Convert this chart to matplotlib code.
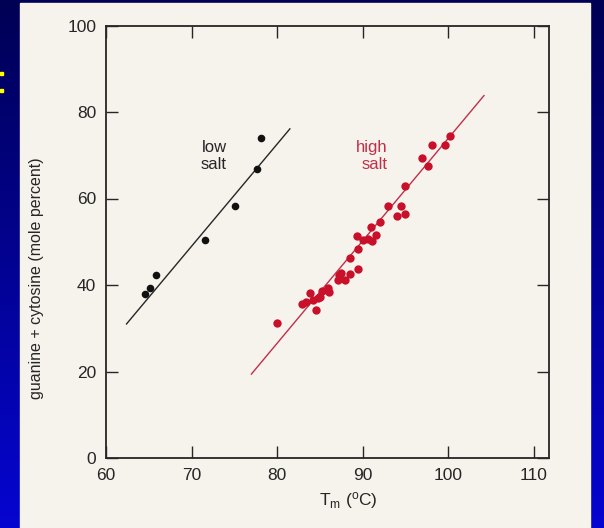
import numpy as np
import matplotlib.pyplot as plt
from matplotlib.patches import Rectangle

plt.rcParams['font.family'] = ['Liberation Sans', 'DejaVu Sans']

# low salt (black) points
low_tm = [64.6, 65.2, 65.9, 71.6, 75.1, 77.6, 78.1]
low_gc = [38.0, 39.2, 42.3, 50.4, 58.2, 66.9, 74.1]
low_fit_tm = [62.4, 81.5]
low_fit_gc = [31.0, 76.1]

# high salt (red) points
high_tm = [80.0, 82.9, 83.4, 83.8, 84.2, 84.5, 84.8, 85.0, 85.3, 85.9,
           86.1, 87.1, 87.3, 87.5, 87.9, 88.5, 89.5, 88.5, 89.5, 89.4,
           90.1, 90.6, 91.1, 91.6, 91.0, 92.0, 93.0, 94.0, 94.5, 95.0,
           95.0, 97.0, 97.6, 98.1, 99.6, 100.2]
high_gc = [31.2, 35.7, 36.0, 38.1, 36.6, 34.3, 37.0, 37.3, 38.7, 39.2,
           38.3, 41.2, 42.4, 42.8, 41.2, 42.6, 43.7, 46.2, 48.3, 51.3,
           50.5, 50.7, 50.1, 51.5, 53.4, 54.6, 58.3, 55.9, 58.2, 56.4,
           63.0, 69.3, 67.4, 72.4, 72.4, 74.5]
high_fit_tm = [77.0, 104.2]
high_fit_gc = [19.4, 83.8]

xticks = [60, 70, 80, 90, 100, 110]
yticks = [0, 20, 40, 60, 80, 100]

W, H = 604, 528
fig = plt.figure(figsize=(W / 100, H / 100), dpi=100)

# slide background: blue gradient with the scanned page on top
bg = fig.add_axes([0, 0, 1, 1], zorder=-10)
t = np.linspace(0, 1, 256)[:, None]
top = np.array([0.0, 0.0, 0.33])
bot = np.array([0.02, 0.02, 0.82])
grad = (top + (bot - top) * t[..., None]).repeat(2, axis=1)
bg.imshow(grad, extent=[0, W, 0, H], aspect='auto', origin='upper')
bg.add_patch(Rectangle((20, 0), 570, H - 3, color='#f6f2ec'))
bg.add_patch(Rectangle((0, H - 75), 2.5, 3.5, color='#ffff00'))
bg.add_patch(Rectangle((0, H - 92), 2.5, 3.5, color='#ffff00'))
bg.set_xlim(0, W)
bg.set_ylim(0, H)
bg.axis('off')

ax = fig.add_axes([106 / W, (H - 458) / H, 443 / W, 432.5 / H])
ax.set_facecolor('none')

ink = '#262626'
red = '#c8102a'

ax.plot(low_fit_tm, low_fit_gc, color=ink, lw=1.0)
ax.scatter(low_tm, low_gc, s=30, color='#111111', zorder=3, linewidths=0)
ax.plot(high_fit_tm, high_fit_gc, color='#c0304a', lw=1.0)
ax.scatter(high_tm, high_gc, s=36, color=red, zorder=3, linewidths=0)

ax.text(74.1, 69.8, 'low\nsalt', ha='right', va='center', fontsize=12,
        color=ink, multialignment='right', linespacing=1.15)
ax.text(92.9, 69.9, 'high\nsalt', ha='right', va='center', fontsize=12,
        color='#c0304a', multialignment='right', linespacing=1.15)

ax.set_xlim(60.2, 111.8)
ax.set_ylim(0, 100)
ax.set_xticks(xticks)
ax.set_yticks(yticks)
ax.tick_params(direction='in', length=8.5, width=1.0, labelsize=12.5,
               colors=ink, top=True, right=True, pad=7)
for s in ax.spines.values():
    s.set_linewidth(1.3)
    s.set_color(ink)

ax.set_xlabel(r'T$_\mathregular{m}$ ($\mathregular{^o}$C)', fontsize=12.5, color=ink)
ax.xaxis.set_label_coords(0.546, -0.075)
ax.text(-0.156, 0.415, 'guanine + cytosine (mole percent)', rotation=90,
        ha='center', va='center', fontsize=11.5, color=ink,
        transform=ax.transAxes)

fig.savefig('out.png', dpi=100)
